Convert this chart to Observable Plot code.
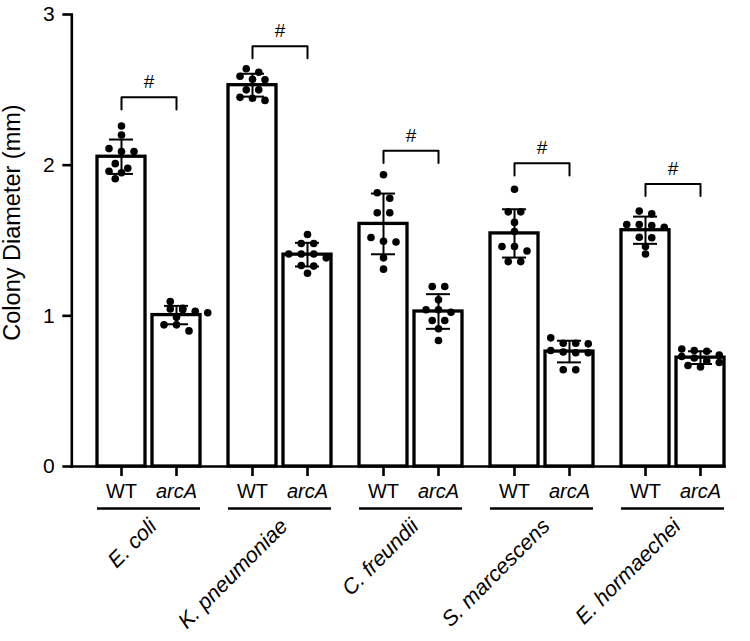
<!DOCTYPE html>
<html>
<head>
<meta charset="utf-8">
<script src="https://cdn.jsdelivr.net/npm/d3@7"></script>
<script src="https://cdn.jsdelivr.net/npm/@observablehq/plot@0.6"></script>
<style>
  html, body { margin: 0; padding: 0; background: #fff; }
  #chart svg { display: block; }
</style>
</head>
<body>
<div id="chart"></div>
<script>
// ---- data ----
const species = ["E. coli", "K. pneumoniae", "C. freundii", "S. marcescens", "E. hormaechei"];
const genotypes = ["WT", "arcA"];
const yTicks = [0, 1, 2, 3];
const yTitle = "Colony Diameter (mm)";
const sigMark = "#";

const ecoliWT   = [2.26, 2.20, 2.11, 2.09, 2.09, 2.01, 1.98, 1.96, 1.95, 1.91];
const ecoliArcA = [1.095, 1.05, 1.045, 1.04, 1.03, 1.02, 0.99, 0.94, 0.94, 0.90];
const kpnWT     = [2.64, 2.617, 2.59, 2.57, 2.567, 2.50, 2.50, 2.45, 2.444, 2.43];
const kpnArcA   = [1.54, 1.48, 1.48, 1.41, 1.41, 1.41, 1.385, 1.334, 1.33, 1.283];
const cfrWT     = [1.936, 1.817, 1.78, 1.684, 1.684, 1.52, 1.495, 1.49, 1.385, 1.31];
const cfrArcA   = [1.195, 1.195, 1.106, 1.04, 1.04, 1.024, 0.969, 0.969, 0.914, 0.836];
const smaWT     = [1.84, 1.69, 1.69, 1.62, 1.56, 1.46, 1.46, 1.43, 1.36, 1.36];
const smaArcA   = [0.854, 0.818, 0.818, 0.814, 0.77, 0.76, 0.755, 0.755, 0.642, 0.642];
const ehoWT     = [1.695, 1.677, 1.606, 1.606, 1.60, 1.588, 1.522, 1.518, 1.46, 1.41];
const ehoArcA   = [0.78, 0.77, 0.765, 0.74, 0.73, 0.72, 0.70, 0.69, 0.67, 0.66];

// height of each significance bracket (y units)
const bracketTops = [2.45, 2.79, 2.095, 2.012, 1.875];

// ---- layout ----
const W = 750, H = 641, mL = 71, mR = 25, mT = 14, mB = 175;
const FONT = "'Liberation Sans', Arial, Helvetica, sans-serif";
const PX = (H - mT - mB) / (yTicks[yTicks.length - 1] - yTicks[0]); // px per y unit
const SPACING = 12.5, D = 7.2, ROW_TOL = 0.045, LEG = 0.08;

const fxOpts = {paddingInner: 0.21, paddingOuter: 0.1, align: 0.98};
const fxProbe = d3.scaleBand().domain(species).range([mL, W - mR])
  .paddingInner(fxOpts.paddingInner).paddingOuter(fxOpts.paddingOuter).align(fxOpts.align);
// facets start to the right of the y axis: shift for marks that belong to the axis
const axisShift = fxProbe(species[0]) - mL;

const seriesBySpecies = [
  [ecoliWT, ecoliArcA], [kpnWT, kpnArcA], [cfrWT, cfrArcA], [smaWT, smaArcA], [ehoWT, ehoArcA]
];

// Prism-like scatter: bin into rows, spread each row symmetrically
function swarm(values) {
  const sorted = [...values].sort((a, b) => b - a);
  const rows = [];
  for (const v of sorted) {
    const r = rows[rows.length - 1];
    if (r && r[0] - v < ROW_TOL) r.push(v); else rows.push([v]);
  }
  const placed = [];
  for (const r of rows) {
    const n = r.length;
    for (const shift of [0, -0.5, 0.5, -1, 1]) {
      const cand = r.map((v, k) => ({value: v, slot: k - (n - 1) / 2 + shift}));
      const ok = cand.every(c => placed.every(p =>
        Math.hypot((c.slot - p.slot) * SPACING, (c.value - p.value) * PX) >= D));
      if (ok || shift === 1) { placed.push(...cand); break; }
    }
  }
  return placed;
}

const points = [], summary = [];
species.forEach((sp, i) => genotypes.forEach((g, j) => {
  const vals = seriesBySpecies[i][j];
  summary.push({species: sp, genotype: g, mean: d3.mean(vals), sd: d3.deviation(vals)});
  swarm(vals).forEach(p => points.push({species: sp, genotype: g, value: p.value, slot: p.slot}));
}));

const slots = [...new Set(points.map(d => d.slot))].sort((a, b) => a - b);
const dotMarks = slots.map(s => Plot.dot(points.filter(d => d.slot === s), {
  fx: "species", x: "genotype", y: "value", r: 3.8, fill: "black", stroke: "none", dx: s * SPACING
}));

const brackets = species.flatMap((sp, i) => [
  {species: sp, genotype: genotypes[0], y: bracketTops[i] - LEG},
  {species: sp, genotype: genotypes[0], y: bracketTops[i]},
  {species: sp, genotype: genotypes[1], y: bracketTops[i]},
  {species: sp, genotype: genotypes[1], y: bracketTops[i] - LEG}
]);
const sigData = species.map((sp, i) => ({species: sp, y: bracketTops[i]}));
const geno = species.flatMap(sp => genotypes.map(g => ({species: sp, genotype: g})));

const chart = Plot.plot({
  width: W, height: H,
  marginLeft: mL, marginRight: mR, marginTop: mT, marginBottom: mB,
  style: {fontFamily: FONT, background: "white", color: "black"},
  fx: {domain: species, ...fxOpts, axis: null, label: null},
  x: {domain: genotypes, paddingInner: 0.135, paddingOuter: 0, axis: null, label: null},
  y: {domain: [yTicks[0], yTicks[yTicks.length - 1]], axis: null, label: null},
  marks: [
    Plot.barY(summary, {fx: "species", x: "genotype", y: "mean", fill: "white", stroke: "black", strokeWidth: 3.3}),
    Plot.ruleX(summary, {fx: "species", x: "genotype", y1: d => d.mean - d.sd, y2: d => d.mean + d.sd, stroke: "black", strokeWidth: 2}),
    Plot.tickY(summary, {fx: "species", x: "genotype", y: d => d.mean + d.sd, insetLeft: 12, insetRight: 12, stroke: "black", strokeWidth: 2}),
    Plot.tickY(summary, {fx: "species", x: "genotype", y: d => d.mean - d.sd, insetLeft: 12, insetRight: 12, stroke: "black", strokeWidth: 2}),
    ...dotMarks,
    Plot.line(brackets, {fx: "species", x: "genotype", y: "y", z: "species", stroke: "black", strokeWidth: 2}),
    Plot.text(sigData, {fx: "species", y: "y", text: () => sigMark, dy: -15, fontSize: 19, fill: "black"}),
    // axes
    Plot.frame({anchor: "left", facet: "super", dx: -axisShift, stroke: "black", strokeWidth: 2.6}),
    Plot.frame({anchor: "bottom", facet: "super", insetLeft: -axisShift, stroke: "black", strokeWidth: 2.6}),
    Plot.axisY({ticks: yTicks, tickFormat: "d", tickSize: 9, tickPadding: 8, fontSize: 21, stroke: "black", strokeWidth: 2.6, label: null, dx: -axisShift}),
    Plot.axisX({tickSize: 10, tickFormat: () => "", stroke: "black", strokeWidth: 2.6, label: null}),
    Plot.text(geno.filter(d => d.genotype === "WT"), {fx: "species", x: "genotype", text: "genotype", frameAnchor: "bottom", lineAnchor: "middle", dy: 25.5, fontSize: 20, fill: "black"}),
    Plot.text(geno.filter(d => d.genotype === "arcA"), {fx: "species", x: "genotype", text: "genotype", frameAnchor: "bottom", lineAnchor: "middle", dy: 25.5, fontSize: 20, fontStyle: "italic", fill: "black"}),
    Plot.ruleY(species, {fx: d => d, y: 0, dy: 42, stroke: "black", strokeWidth: 2.6}),
    Plot.text(species, {fx: d => d, text: d => d, frameAnchor: "bottom", lineAnchor: "bottom", rotate: -45, textAnchor: "end", dx: 9, dy: 61, fontSize: 21.5, fontStyle: "italic", fill: "black"}),
    Plot.text([yTitle], {facet: "super", frameAnchor: "left", textAnchor: "middle", lineAnchor: "middle", rotate: -90, dx: -axisShift - 59, dy: -18, fontSize: 23.5, fill: "black"})
  ]
});
document.getElementById("chart").appendChild(chart);
</script>
</body>
</html>
